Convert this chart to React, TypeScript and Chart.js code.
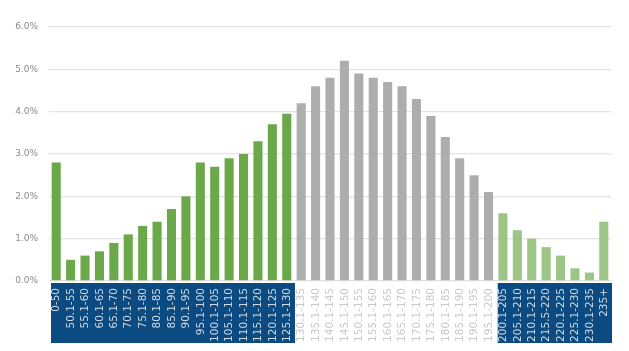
import React, { useEffect, useRef } from "react";
import { Chart, registerables } from "chart.js";

Chart.register(...registerables);

const categories: string[] = [
  "0-50", "50.1-55", "55.1-60", "60.1-65", "65.1-70", "70.1-75", "75.1-80", "80.1-85",
  "85.1-90", "90.1-95", "95.1-100", "100.1-105", "105.1-110", "110.1-115", "115.1-120",
  "120.1-125", "125.1-130",
  "130.1-135", "135.1-140", "140.1-145", "145.1-150", "150.1-155", "155.1-160", "160.1-165",
  "165.1-170", "170.1-175", "175.1-180", "180.1-185", "185.1-190", "190.1-195", "195.1-200",
  "200.1-205", "205.1-210", "210.1-215", "215.5-220", "220.1-225", "225.1-230", "230.1-235", "235+",
];

const values: number[] = [
  2.8, 0.5, 0.6, 0.7, 0.9, 1.1, 1.3, 1.4, 1.7, 2.0, 2.8, 2.7, 2.9, 3.0, 3.3, 3.7, 3.95,
  4.2, 4.6, 4.8, 5.2, 4.9, 4.8, 4.7, 4.6, 4.3, 3.9, 3.4, 2.9, 2.5, 2.1,
  1.6, 1.2, 1.0, 0.8, 0.6, 0.3, 0.2, 1.4,
];

const yTicks: number[] = [0, 1, 2, 3, 4, 5, 6];

// index ranges of the groups [start, end] inclusive
const lowGroup: number[] = [0, 16];
const midGroup: number[] = [17, 30];
const highGroup: number[] = [31, 38];

const GREEN = "#6AA84A";
const GRAY = "#ADADAD";
const LIGHT_GREEN = "#9CC586";
const BLUE = "#0B4B82";

function inRange(i: number, r: number[]) {
  return i >= r[0] && i <= r[1];
}

const boxPlugin = {
  id: "labelBoxes",
  beforeDraw(chart: any) {
    const x = chart.scales.x;
    const ctx = chart.ctx;
    const half = (x.getPixelForValue(1) - x.getPixelForValue(0)) / 2;
    const top = chart.chartArea.bottom + 2;
    const bottom = top + 60;
    ctx.save();
    ctx.fillStyle = BLUE;
    [lowGroup, highGroup].forEach((r) => {
      const l = x.getPixelForValue(r[0]) - half + 2;
      const rr = x.getPixelForValue(r[1]) + half + 1;
      ctx.fillRect(l, top, rr - l, bottom - top);
    });
    ctx.restore();
  },
  afterDraw(chart: any) {
    const x = chart.scales.x;
    const ctx = chart.ctx;
    const labels: string[] = chart.data.labels;
    const y0 = chart.chartArea.bottom + 7;
    ctx.save();
    ctx.font = "10.5px 'DejaVu Sans'";
    ctx.textAlign = "right";
    ctx.textBaseline = "middle";
    labels.forEach((lab, i) => {
      ctx.save();
      ctx.translate(x.getPixelForValue(i) + 0.5, y0);
      ctx.rotate(-Math.PI / 2);
      ctx.fillStyle = inRange(i, midGroup) ? "#C8C8C8" : "#D3DAE2";
      ctx.fillText(lab, 0, 0);
      ctx.restore();
    });
    ctx.restore();
  },
};

export default function App() {
  const ref = useRef<HTMLCanvasElement | null>(null);
  useEffect(() => {
    document.body.style.margin = "0";
    const colors = values.map((_, i) =>
      inRange(i, lowGroup) ? GREEN : inRange(i, midGroup) ? GRAY : LIGHT_GREEN
    );
    const chart = new Chart(ref.current!, {
      type: "bar",
      data: {
        labels: categories,
        datasets: [
          {
            data: values,
            backgroundColor: colors,
            barPercentage: 0.63,
            categoryPercentage: 1,
          },
        ],
      },
      options: {
        animation: false,
        responsive: false,
        layout: { padding: { top: 27, right: 18, left: 0, bottom: 0 } },
        plugins: { legend: { display: false }, tooltip: { enabled: false } },
        scales: {
          x: {
            grid: { display: false },
            border: { display: false },
            ticks: { display: false },
            afterFit: (s: any) => {
              s.height = 70;
            },
          },
          y: {
            min: 0,
            max: 6,
            afterBuildTicks: (s: any) => {
              s.ticks = yTicks.map((v) => ({ value: v }));
            },
            border: { display: false },
            grid: { color: "#E3E3E3", lineWidth: 1.3, drawTicks: false },
            ticks: {
              padding: 11,
              color: "#8A8A8A",
              font: { family: "DejaVu Sans", size: 9 },
              callback: (v: any) => Number(v).toFixed(1) + "%",
            },
            afterFit: (s: any) => {
              s.width = 49;
            },
          },
        },
      },
      plugins: [boxPlugin],
    });
    return () => chart.destroy();
  }, []);
  return <canvas ref={ref} width={629} height={351} style={{ display: "block" }} />;
}
